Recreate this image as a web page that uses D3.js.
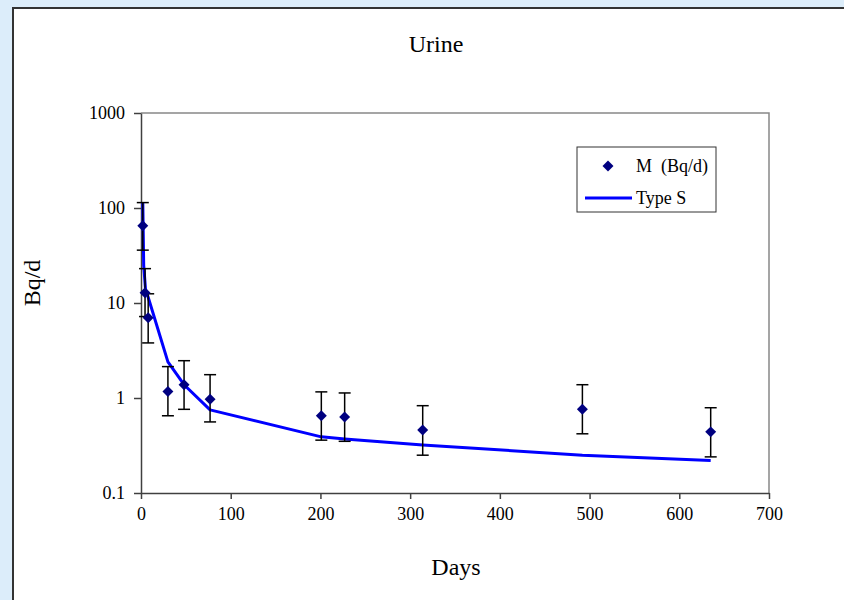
<!DOCTYPE html>
<html>
<head>
<meta charset="utf-8">
<script src="https://cdn.jsdelivr.net/npm/d3@7"></script>
<style>
  html, body { margin: 0; padding: 0; background: #dcedfa; }
  svg { display: block; font-family: "Liberation Serif", "Times New Roman", serif; }
  .axis path, .axis line { stroke: #404040; stroke-width: 1.5; }
  .axis text { font-size: 18px; fill: #000; font-family: "Liberation Serif", serif; }
</style>
</head>
<body>
<svg id="chart"></svg>
<script>
  // measured urine excretion (Bq/d) with error bars
  const days     = [2, 4.5, 8, 30, 48, 77, 201, 227, 314, 492, 635];
  const measured = [65, 12.8, 7.0, 1.17, 1.38, 0.97, 0.65, 0.63, 0.46, 0.76, 0.44];
  const errHigh  = [114, 23, 12.5, 2.14, 2.47, 1.76, 1.16, 1.13, 0.83, 1.38, 0.79];
  const errLow   = [36, 7.2, 3.8, 0.65, 0.76, 0.56, 0.36, 0.35, 0.25, 0.42, 0.24];

  // model curve, Type S
  const modelDays  = [2, 3, 5, 8, 30, 48, 77, 201, 227, 314, 492, 635];
  const modelValue = [115, 25, 14, 11.5, 2.4, 1.38, 0.75, 0.39, 0.37, 0.32, 0.25, 0.22];

  const xTicks = [0, 100, 200, 300, 400, 500, 600, 700];
  const yTicks = [0.1, 1, 10, 100, 1000];
  const yTickLabels = ["0.1", "1", "10", "100", "1000"];

  const W = 844, H = 600;
  const svg = d3.select("#chart").attr("width", W).attr("height", H);

  // white chart frame
  svg.append("rect").attr("x", 13).attr("y", 8).attr("width", W).attr("height", H)
    .attr("fill", "#fff").attr("stroke", "#333").attr("stroke-width", 2);

  const x = d3.scaleLinear().domain([0, 700]).range([141, 769]);
  const y = d3.scaleLog().domain([0.1, 1000]).range([493, 113]);

  // plot border (top/right in grey)
  svg.append("path")
    .attr("d", `M${x(0)},${y(1000)} H${x(700)} V${y(0.1)}`)
    .attr("fill", "none").attr("stroke", "#888").attr("stroke-width", 1.5);

  svg.append("g").attr("class", "axis")
    .attr("transform", `translate(0,${y(0.1)})`)
    .call(d3.axisBottom(x).tickValues(xTicks).tickSize(6).tickSizeOuter(0).tickPadding(16))
    .call(g => g.selectAll("text").attr("dy", "0.3em"));

  svg.append("g").attr("class", "axis")
    .attr("transform", `translate(${x(0)},0)`)
    .call(d3.axisLeft(y).tickValues(yTicks).tickSize(7).tickSizeOuter(0).tickPadding(9)
      .tickFormat((d, i) => yTickLabels[i]));

  // model line
  const line = d3.line().x((d, i) => x(modelDays[i])).y(d => y(d));
  svg.append("path").datum(modelValue)
    .attr("d", line)
    .attr("fill", "none").attr("stroke", "#0000ff").attr("stroke-width", 3)
    .attr("stroke-linejoin", "round");

  // error bars
  const eb = svg.append("g").attr("stroke", "#000").attr("stroke-width", 1.5);
  days.forEach((d, i) => {
    const cx = x(d);
    eb.append("line").attr("x1", cx).attr("x2", cx).attr("y1", y(errHigh[i])).attr("y2", y(errLow[i]));
    eb.append("line").attr("x1", cx - 6).attr("x2", cx + 6).attr("y1", y(errHigh[i])).attr("y2", y(errHigh[i]));
    eb.append("line").attr("x1", cx - 6).attr("x2", cx + 6).attr("y1", y(errLow[i])).attr("y2", y(errLow[i]));
  });

  // diamond markers
  const diamond = d3.symbol(d3.symbolSquare, 60);
  svg.append("g").selectAll("path").data(measured).join("path")
    .attr("d", diamond)
    .attr("transform", (d, i) => `translate(${x(days[i])},${y(d)}) rotate(45)`)
    .attr("fill", "#000080");

  // title and axis labels
  svg.append("text").attr("x", 436).attr("y", 52).attr("text-anchor", "middle")
    .attr("font-size", 24).text("Urine");
  svg.append("text").attr("x", 456).attr("y", 575).attr("text-anchor", "middle")
    .attr("font-size", 24).text("Days");
  svg.append("text").attr("transform", "translate(40,283) rotate(-90)")
    .attr("text-anchor", "middle").attr("font-size", 24).text("Bq/d");

  // legend
  const lg = svg.append("g");
  lg.append("rect").attr("x", 577).attr("y", 147).attr("width", 139).attr("height", 65)
    .attr("fill", "#fff").attr("stroke", "#333").attr("stroke-width", 1);
  lg.append("path").attr("d", diamond)
    .attr("transform", "translate(608,166) rotate(45)").attr("fill", "#000080");
  lg.append("text").attr("x", 636).attr("y", 172).attr("font-size", 18)
    .attr("xml:space", "preserve").text("M  (Bq/d)");
  lg.append("line").attr("x1", 585).attr("x2", 632).attr("y1", 198).attr("y2", 198)
    .attr("stroke", "#0000ff").attr("stroke-width", 3);
  lg.append("text").attr("x", 636).attr("y", 204).attr("font-size", 18).text("Type S");
</script>
</body>
</html>
